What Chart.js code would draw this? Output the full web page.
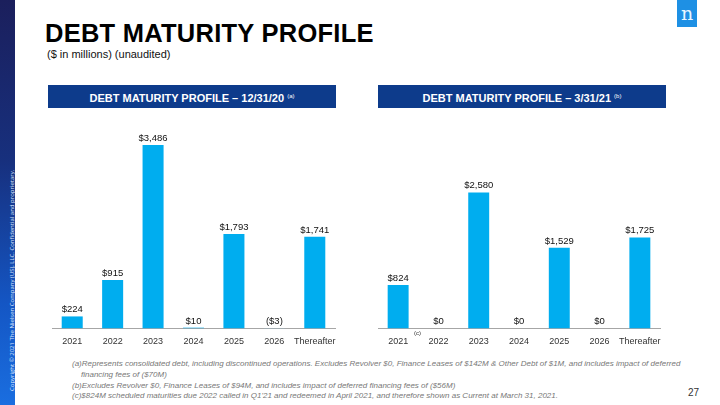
<!DOCTYPE html>
<html>
<head>
<meta charset="utf-8">
<script src="https://cdn.jsdelivr.net/npm/chart.js@4"></script>
<style>
  body { margin: 0; width: 720px; height: 405px; position: relative; overflow: hidden; background: #fff; font-family: "Liberation Sans", Arial, sans-serif; }
  .abs { position: absolute; white-space: nowrap; }
  #strip { left: 0; top: 0; width: 15px; height: 405px; background: linear-gradient(to bottom, #1b1f5c 0%, #17307e 40%, #1456c4 75%, #1a6ee0 100%); }
  #copy { left: 8px; top: 391px; transform-origin: 0 0; transform: rotate(-90deg); color: #dfe8ff; font-size: 6px; font-family: "Open Sans", sans-serif; }
  #title { left: 45px; top: 19px; font-size: 25.5px; font-weight: bold; letter-spacing: 0.25px; color: #000; }
  #sub { left: 47px; top: 48px; font-size: 11px; color: #111; }
  .hdr { top: 85px; height: 23px; width: 288px; background: #0d3b8b; color: #fff; font-weight: bold; font-size: 11px; line-height: 23px; text-align: center; }
  .hdr sup { font-size: 6px; font-weight: normal; vertical-align: 4px; }
  #logo { left: 677px; top: 0; width: 20px; height: 27px; background: #1e90e4; color: #e8f6ff; font-family: "DejaVu Serif", serif; font-size: 19px; line-height: 27px; text-align: center; }
  canvas { position: absolute; }
  .fn { left: 72px; font-size: 8px; font-style: italic; color: #777; }
  #pg { left: 688px; top: 387px; font-size: 10px; color: #333; }
  #csup { left: 414px; top: 330px; font-size: 6px; color: #333; }
</style>
</head>
<body>
<div id="strip" class="abs"></div>
<div id="copy" class="abs">Copyright © 2021 The Nielsen Company (US), LLC. Confidential and proprietary.</div>
<div id="title" class="abs">DEBT MATURITY PROFILE</div>
<div id="sub" class="abs">($ in millions) (unaudited)</div>
<div class="abs hdr" style="left:48px">DEBT MATURITY PROFILE – 12/31/20 <sup>(a)</sup></div>
<div class="abs hdr" style="left:378px">DEBT MATURITY PROFILE – 3/31/21 <sup>(b)</sup></div>
<div id="logo" class="abs">n</div>

<canvas id="leftChart" width="305" height="242" style="left:40px; top:110px"></canvas>
<canvas id="rightChart" width="305" height="242" style="left:366px; top:110px"></canvas>
<div id="csup" class="abs">(c)</div>

<div class="abs fn" style="top:359px">(a)Represents consolidated debt, including discontinued operations. Excludes Revolver $0, Finance Leases of $142M &amp; Other Debt of $1M, and includes impact of deferred</div>
<div class="abs fn" style="top:370px; left:81px">financing fees of ($70M)</div>
<div class="abs fn" style="top:381px">(b)Excludes Revolver $0, Finance Leases of $94M, and includes impact of deferred financing fees of ($56M)</div>
<div class="abs fn" style="top:391px">(c)$824M scheduled maturities due 2022 called in Q1'21 and redeemed in April 2021, and therefore shown as Current at March 31, 2021.</div>
<div id="pg" class="abs">27</div>

<script>
// ---- data ----
const years = ["2021", "2022", "2023", "2024", "2025", "2026", "Thereafter"];
const maturities1231 = [224, 915, 3486, 10, 1793, -3, 1741];
const maturities0331 = [824, 0, 2580, 0, 1529, 0, 1725];

const barBlue = "#00adef";
const negBlue = "#8ecbea";

function money(v) {
    const s = "$" + Math.abs(v).toLocaleString("en-US");
    return v < 0 ? "(" + s + ")" : s;
}

// value labels above each bar
const valueLabels = {
    id: "valueLabels",
    afterDatasetsDraw(chart) {
        const ctx = chart.ctx;
        const ds = chart.data.datasets[0];
        const meta = chart.getDatasetMeta(0);
        ctx.save();
        ctx.font = "9.5px 'Liberation Sans', Arial, sans-serif";
        ctx.fillStyle = "#111";
        ctx.textAlign = "center";
        ctx.textBaseline = "bottom";
        meta.data.forEach((bar, i) => {
            const top = Math.min(bar.y, bar.base);
            ctx.fillText(money(ds.data[i]), bar.x, top - 2);
        });
        ctx.restore();
    }
};

function makeChart(id, values, padLeft, padRight) {
    return new Chart(document.getElementById(id), {
        type: "bar",
        data: {
            labels: years,
            datasets: [{
                data: values,
                backgroundColor: ctx => ctx.raw < 0 ? negBlue : barBlue,
                barPercentage: 0.52,
                categoryPercentage: 1,
                clip: false
            }]
        },
        options: {
            responsive: false,
            animation: false,
            layout: { padding: { left: padLeft, right: padRight, top: 8, bottom: 5 } },
            plugins: { legend: { display: false }, tooltip: { enabled: false } },
            scales: {
                x: {
                    grid: { display: false },
                    border: { display: true, color: "#a6a6a6", width: 1 },
                    ticks: {
                        color: "#333",
                        font: { size: 9, family: "'Liberation Sans', Arial, sans-serif" },
                        padding: 0,
                        maxRotation: 0,
                        autoSkip: false
                    }
                },
                y: { display: false, min: 0, max: 4000 }
            }
        },
        plugins: [valueLabels]
    });
}

makeChart("leftChart", maturities1231, 12, 10);
makeChart("rightChart", maturities0331, 12, 11);
</script>
</body>
</html>
